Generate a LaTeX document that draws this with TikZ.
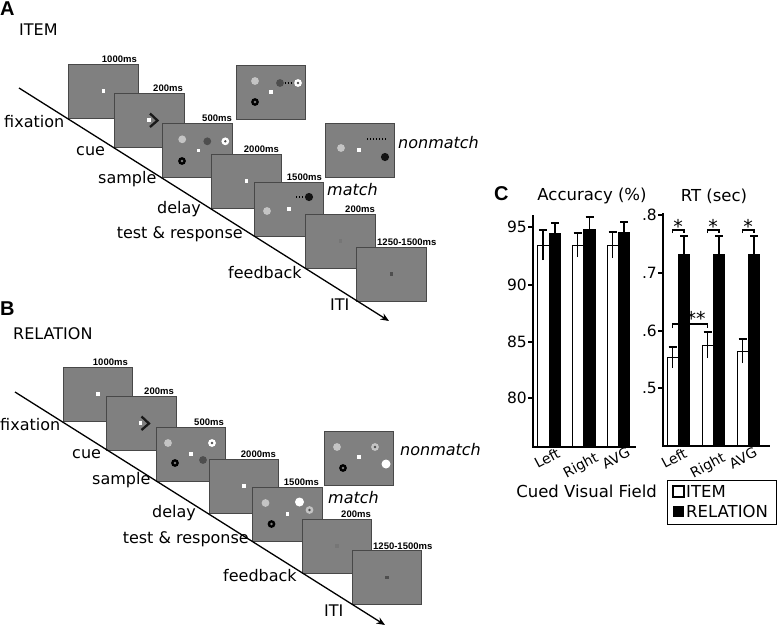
\documentclass[tikz,border=0pt]{standalone}
\usepackage{fontspec}
\setmainfont{DejaVu Sans}
\newfontfamily\arialf{Liberation Sans}
\usetikzlibrary{calc,arrows.meta}
\definecolor{scrgray}{RGB}{128,128,128}
\definecolor{scrline}{RGB}{72,72,72}
\definecolor{lgray}{RGB}{196,196,196}
\definecolor{dgray}{RGB}{78,78,78}
\definecolor{cuecol}{RGB}{25,25,25}
\definecolor{faintdot}{RGB}{118,118,118}
\newcommand\labfont{\fontsize{16}{19}\selectfont}
\newcommand\timefont{\arialf\bfseries\fontsize{9.5}{11}\selectfont}
\newcommand\panelfont{\arialf\bfseries\fontsize{20}{23}\selectfont}
\newcommand\titlefont{\fontsize{16.5}{19}\selectfont}
\newcommand\tickfont{\fontsize{15.5}{18}\selectfont}
\newcommand\catfont{\fontsize{14}{17}\selectfont}
\newcommand\starfont{\fontsize{19}{22}\selectfont}
\tikzset{
  screen/.style={draw=scrline, fill=scrgray, line width=0.8pt, minimum width=69.5pt, minimum height=54pt, inner sep=0pt, outer sep=0pt},
  lbl/.style={font=\labfont, anchor=base west, inner sep=0pt},
  lble/.style={font=\labfont, anchor=base east, inner sep=0pt},
  tlbl/.style={font=\timefont, anchor=base east, inner sep=0pt},
  tlblw/.style={font=\timefont, anchor=base west, inner sep=0pt},
  panel/.style={font=\panelfont, anchor=base west, inner sep=0pt},
  cond/.style={font=\labfont, anchor=base west, inner sep=0pt},
  resp/.style={font=\labfont\itshape, anchor=base west, inner sep=0pt},
  timeline/.style={line width=1.3pt, -{Stealth[length=8.5pt,width=7pt]}},
  dotline/.style={line width=1.3pt, dash pattern=on 1.3pt off 1.7pt},
  lgc/.pic={\fill[lgray] (0,0) circle[radius=3.9pt];},
  dgc/.pic={\fill[dgray] (0,0) circle[radius=3.9pt];},
  bring/.pic={\fill[black] (0,0) circle[radius=3.9pt]; \fill[scrgray] (0,0) circle[radius=1.4pt];},
  wring/.pic={\fill[white] (0,0) circle[radius=3.9pt]; \fill[dgray] (0,0) circle[radius=1.3pt];},
  gring/.pic={\fill[lgray] (0,0) circle[radius=3.9pt]; \fill[dgray] (0,0) circle[radius=1.3pt];},
  bdisc/.pic={\fill[black!92] (0,0) circle[radius=4.1pt];},
  wdisc/.pic={\fill[white] (0,0) circle[radius=4.5pt];},
  fixdot/.pic={\fill[white] (-1.7,-1.7) rectangle (1.7,1.7);},
  itidot/.pic={\fill[dgray] (-1.7,-1.7) rectangle (1.7,1.7);},
  fbdot/.pic={\fill[faintdot] (-1.6,-1.6) rectangle (1.6,1.6);},
  cuemark/.pic={\draw[cuecol, line width=2.3pt, line join=miter] (0,-6.5) -- (7.5,0.5) -- (0,7);},
  axisline/.style={line width=1.2pt},
  wbar/.style={draw=black, fill=white, line width=0.9pt},
  bbar/.style={fill=black},
  err/.style={line width=1.4pt},
  brk/.style={line width=1.2pt},
  ytick/.style={font=\tickfont, anchor=east, inner sep=0pt},
  xcat/.style={font=\catfont, anchor=center, inner sep=0pt, rotate=28},
  ctitle/.style={font=\titlefont, inner sep=0pt},
  star/.style={font=\starfont, anchor=base, inner sep=0pt},
}
\begin{document}
\begin{tikzpicture}[x=1pt,y=-1pt]
\useasboundingbox (0,0) rectangle (777,627);

%================ PANEL A =================
\node[panel] (pA) at (0,15) {A};
\node[cond] (condA) at (19,35) {ITEM};

\node[screen] (a1) at (103.5,91) {};
\node[screen] (a2) at (149.5,120) {};
\node[screen] (a3) at (197.5,150) {};
\node[screen] (a4) at (246.5,181) {};
\node[screen] (a5) at (289,209) {};
\node[screen] (a6) at (340.5,241) {};
\node[screen] (a7) at (391.5,274) {};
\node[screen] (aT) at (271,92) {};
\node[screen] (aN) at (360,150) {};

\pic at (a1.center) {fixdot};
\begin{scope}[shift={(a2.center)}]
  \pic at (-0.5,0) {fixdot};
  \pic at (0.5,0) {cuemark};
\end{scope}
\begin{scope}[shift={(a3.center)}]
  \pic at (-15.3,-10.7) {lgc};
  \pic at (9.8,-8.7) {dgc};
  \pic at (27.8,-8.7) {wring};
  \pic at (-15.5,11) {bring};
  \pic at (0.8,0.7) {fixdot};
\end{scope}
\begin{scope}[shift={(aT.center)}]
  \pic at (-16,-11) {lgc};
  \pic at (9,-9) {dgc};
  \draw[dotline] (13.5,-9) -- (24,-9);
  \pic at (27,-9) {wring};
  \pic at (-16,10) {bring};
  \pic at (0,0) {fixdot};
\end{scope}
\pic at (a4.center) {fixdot};
\begin{scope}[shift={(a5.center)}]
  \pic at (-22,2) {lgc};
  \pic at (0,0) {fixdot};
  \draw[dotline] (7,-12) -- (16,-12);
  \pic at (20,-12) {bdisc};
\end{scope}
\begin{scope}[shift={(aN.center)}]
  \pic at (-19,-2) {lgc};
  \pic at (-1,0) {fixdot};
  \draw[dotline] (7,-11) -- (26,-11);
  \pic at (25,7) {bdisc};
\end{scope}
\pic at (a6.center) {fbdot};
\pic at (a7.center) {itidot};

\node[tlbl] (ta1) at (137,62.5) {1000ms};
\node[tlbl] (ta2) at (183,91.5) {200ms};
\node[tlbl] (ta3) at (232,121.5) {500ms};
\node[tlbl] (ta4) at (279,152.5) {2000ms};
\node[tlbl] (ta5) at (322,180.5) {1500ms};
\node[tlbl] (ta6) at (375,212.5) {200ms};
\node[tlblw] (ta7) at (377,245) {1250-1500ms};

\node[resp] (mA) at (327,195) {match};
\node[resp] (nA) at (398,148) {nonmatch};

\node[lbl] (fxA) at (4,127) {fixation};
\node[lbl] (cuA) at (76,155) {cue};
\node[lbl] (smA) at (98,183) {sample};
\node[lbl] (dlA) at (157,213) {delay};
\node[lble] (trA) at (243,238) {test \& response};
\node[lbl] (fbA) at (228,278) {feedback};
\node[lbl] (itA) at (330,310) {ITI};

\coordinate (la0) at (19,88);
\coordinate (la1) at (389,321);
\draw[timeline] (la0) -- (la1);

%================ PANEL B =================
\node[panel] (pB) at (0,315) {B};
\node[cond] (condB) at (13,339) {RELATION};

\node[screen] (b1) at (98,394) {};
\node[screen] (b2) at (141.5,423) {};
\node[screen] (b3) at (191,454) {};
\node[screen] (b4) at (244,486) {};
\node[screen] (b5) at (287.5,514) {};
\node[screen] (b6) at (337,546) {};
\node[screen] (b7) at (387,577.5) {};
\node[screen] (bN) at (359,458) {};

\pic at (b1.center) {fixdot};
\begin{scope}[shift={(b2.center)}]
  \pic at (-1,0) {fixdot};
  \pic at (0,0) {cuemark};
\end{scope}
\begin{scope}[shift={(b3.center)}]
  \pic at (-23,-11) {lgc};
  \pic at (21,-11) {wring};
  \pic at (0,0) {fixdot};
  \pic at (-16,9) {bring};
  \pic at (12,6) {dgc};
\end{scope}
\pic at (b4.center) {fixdot};
\begin{scope}[shift={(b5.center)}]
  \pic at (-22,-11) {lgc};
  \pic at (12,-12) {wdisc};
  \pic at (22,-4) {gring};
  \pic at (0,0) {fixdot};
  \pic at (-16,10) {bring};
\end{scope}
\begin{scope}[shift={(bN.center)}]
  \pic at (-22,-11) {lgc};
  \pic at (16,-11) {gring};
  \pic at (0,-1) {fixdot};
  \pic at (-16,10) {bring};
  \pic at (27,6) {wdisc};
\end{scope}
\pic at (b6.center) {fbdot};
\pic at (b7.center) {itidot};

\node[tlbl] (tb1) at (128,365.5) {1000ms};
\node[tlbl] (tb2) at (174,394.5) {200ms};
\node[tlbl] (tb3) at (224,425.5) {500ms};
\node[tlbl] (tb4) at (276,457.5) {2000ms};
\node[tlbl] (tb5) at (319,485.5) {1500ms};
\node[tlbl] (tb6) at (371,517.5) {200ms};
\node[tlblw] (tb7) at (373,549) {1250-1500ms};

\node[resp] (mB) at (328,503) {match};
\node[resp] (nB) at (400,455) {nonmatch};

\node[lbl] (fxB) at (0,430) {fixation};
\node[lbl] (cuB) at (72,458) {cue};
\node[lbl] (smB) at (92,484) {sample};
\node[lbl] (dlB) at (152,517) {delay};
\node[lble] (trB) at (249,543) {test \& response};
\node[lbl] (fbB) at (223,581) {feedback};
\node[lbl] (itB) at (324,616) {ITI};

\coordinate (lb0) at (15,392);
\coordinate (lb1) at (385,625);
\draw[timeline] (lb0) -- (lb1);

%================ PANEL C =================
\node[panel] (pC) at (494,200) {C};
\node[ctitle] (tAcc) at (592,196) {Accuracy (\%)};
\node[ctitle] (tRT) at (714,196) {RT (sec)};

% accuracy axes
\draw[axisline] (533,215) -- (533,447) -- (636,447);
\foreach \yy/\tx in {227/95, 285/90, 342/85, 398/80}{
  \draw[axisline] (528,\yy) -- (533,\yy);
  \node[ytick] at (527,\yy) {\tx};
}
% accuracy bars
\draw[wbar] (537,447) rectangle (549,245);
\fill[bbar] (549,447) rectangle (561,233);
\draw[wbar] (572,447) rectangle (583,245);
\fill[bbar] (583,447) rectangle (596,229);
\draw[wbar] (607,447) rectangle (618,245);
\fill[bbar] (618,447) rectangle (630,232);
\draw[err] (543,260) -- (543,230) (539,230) -- (547,230);
\draw[err] (555,233) -- (555,223) (551,223) -- (559,223);
\draw[err] (577.5,257) -- (577.5,233) (573.5,233) -- (581.5,233);
\draw[err] (589.5,229) -- (589.5,217) (585.5,217) -- (593.5,217);
\draw[err] (612.5,258) -- (612.5,232) (608.5,232) -- (616.5,232);
\draw[err] (624,232) -- (624,222) (620,222) -- (628,222);
\draw[axisline] (533,447) -- (636,447);

\node[xcat] (xl1) at (547,458) {Left};
\node[xcat] (xr1) at (581,466) {Right};
\node[xcat] (xa1) at (616,458) {AVG};

% RT axes
\draw[axisline] (663,213) -- (663,446) -- (770,446);
\foreach \yy/\tx in {215/.8, 273/.7, 331/.6, 388/.5}{
  \draw[axisline] (658,\yy) -- (663,\yy);
  \node[ytick] at (657,\yy) {\tx};
}
\draw[wbar] (667,446) rectangle (678,357);
\fill[bbar] (678,446) rectangle (690,254);
\draw[wbar] (702,446) rectangle (713,345);
\fill[bbar] (713,446) rectangle (725,254);
\draw[wbar] (737,446) rectangle (748,351);
\fill[bbar] (748,446) rectangle (760,254);
\draw[err] (672.5,368) -- (672.5,347) (668.5,347) -- (676.5,347);
\draw[err] (684,254) -- (684,236) (680,236) -- (688,236);
\draw[err] (707.5,358) -- (707.5,332) (703.5,332) -- (711.5,332);
\draw[err] (719,254) -- (719,236) (715,236) -- (723,236);
\draw[err] (742.5,363) -- (742.5,339) (738.5,339) -- (746.5,339);
\draw[err] (754,254) -- (754,236) (750,236) -- (758,236);
\draw[axisline] (663,446) -- (770,446);

% significance
\draw[brk] (672.5,233) -- (672.5,230) -- (684,230) -- (684,233);
\node[star] (s1) at (678,233.5) {*};
\draw[brk] (707.5,233) -- (707.5,230) -- (719,230) -- (719,233);
\node[star] (s2) at (713,233.5) {*};
\draw[brk] (742.5,233) -- (742.5,230) -- (754,230) -- (754,233);
\node[star] (s3) at (748,233.5) {*};
\draw[brk] (672.5,328) -- (672.5,324) -- (707.5,324) -- (707.5,328);
\node[star] (s4) at (696,325) {**};

\node[xcat] (xl2) at (674,458) {Left};
\node[xcat] (xr2) at (708,466) {Right};
\node[xcat] (xa2) at (743,458) {AVG};

\node[font=\titlefont, anchor=base east, inner sep=0pt] (cvf) at (657,497) {Cued Visual Field};

% legend
\draw[line width=0.9pt] (667,480) rectangle (776,524);
\draw[line width=1.6pt, fill=white] (673,486) rectangle (684,497);
\fill (673,506) rectangle (684,517);
\node[font=\titlefont, anchor=base west, inner sep=0pt] (lgI) at (686,497) {ITEM};
\node[font=\titlefont, anchor=base west, inner sep=0pt] (lgR) at (686,517) {RELATION};
\end{tikzpicture}
\end{document}
